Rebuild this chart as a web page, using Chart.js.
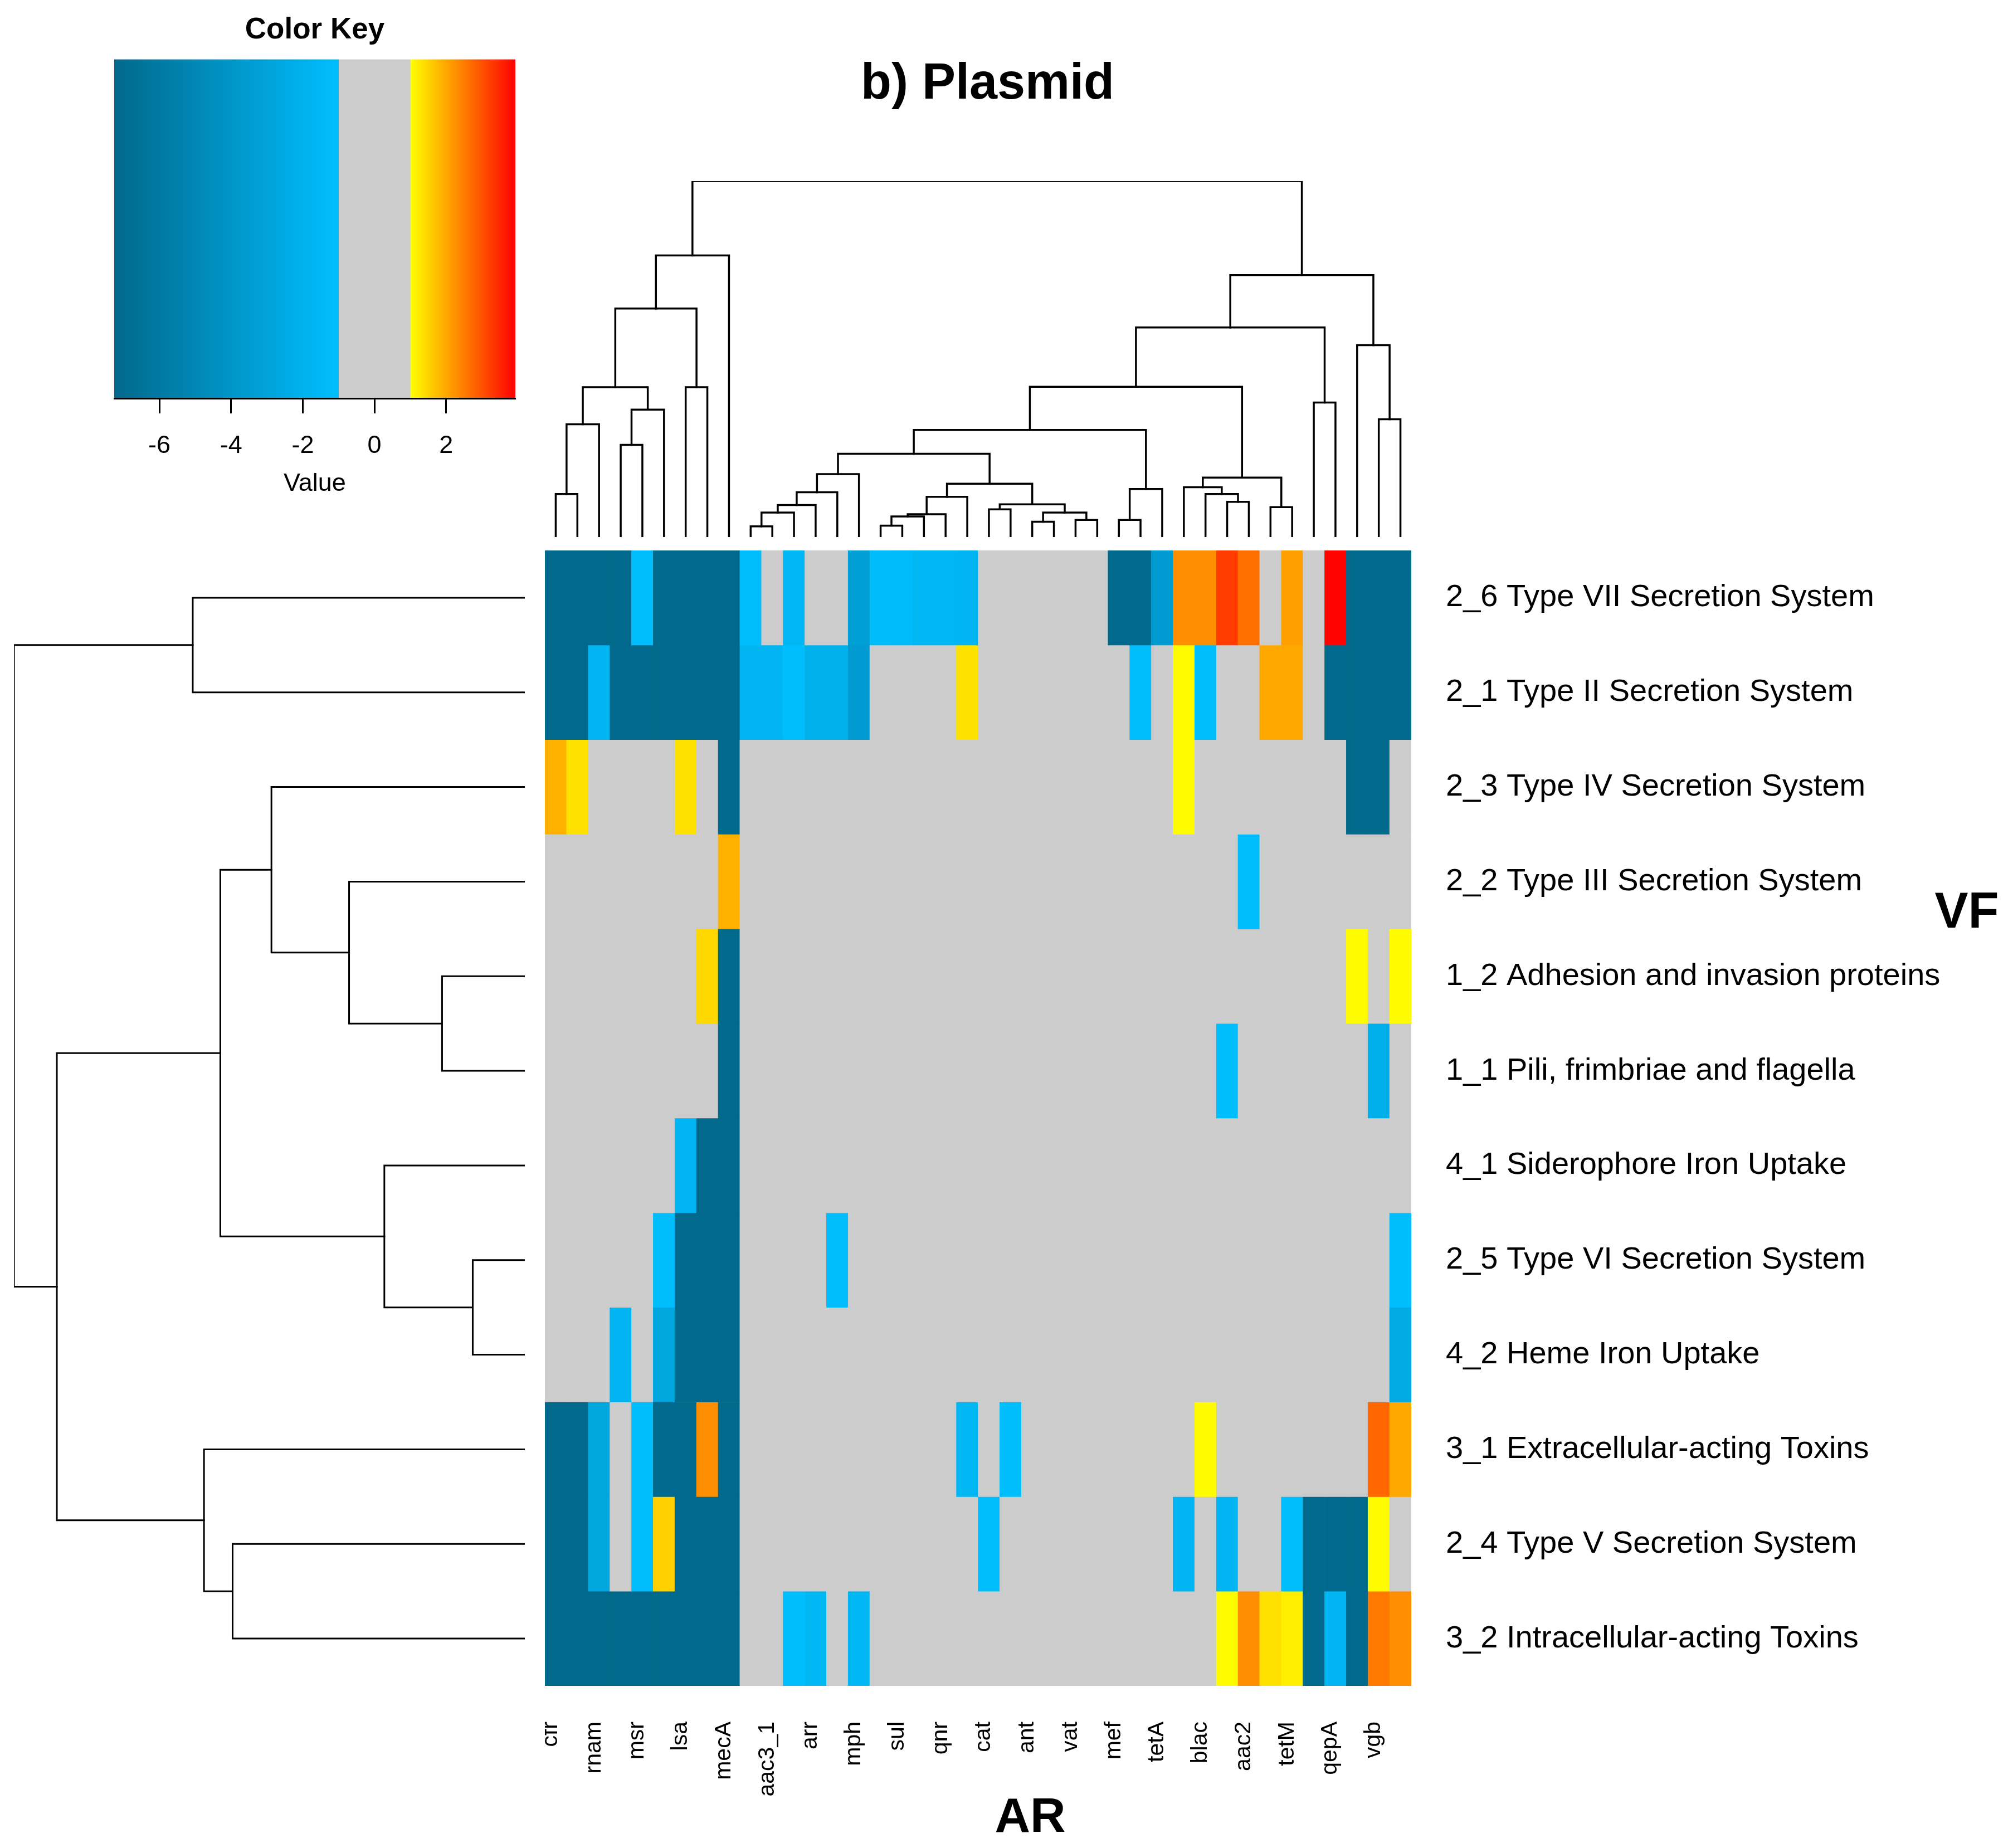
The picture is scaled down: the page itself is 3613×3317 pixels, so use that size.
<!DOCTYPE html>
<html><head><meta charset="utf-8">
<script src="https://cdn.jsdelivr.net/npm/chart.js@4.4.1/dist/chart.umd.min.js"></script>
<style>
html,body{margin:0;padding:0;background:#fff;width:3613px;height:3317px;overflow:hidden;position:relative}
canvas{position:absolute;display:block}
</style></head><body>
<canvas id="key" style="left:150px;top:0px;width:830px;height:920px" width="830" height="920"></canvas>
<canvas id="colDendro" style="left:978px;top:80px;width:1589px;height:888px" width="1589" height="888"></canvas>
<canvas id="rowDendro" style="left:15px;top:988px;width:937px;height:2038px" width="937" height="2038"></canvas>
<canvas id="heat" style="left:978px;top:988px;width:2635px;height:2329px" width="2635" height="2329"></canvas>
<script>
// ---------------- DATA ----------------
const chartTitle = 'b) Plasmid';
const arAxisTitle = 'AR';
const vfAxisTitle = 'VF';

// 40 AR columns (only every other name is printed in the original)
const arLabels = ['cfr','','rnam','','msr','','lsa','','mecA','',
                  'aac3_1','','arr','','mph','','sul','','qnr','',
                  'cat','','ant','','vat','','mef','','tetA','',
                  'blac','','aac2','','tetM','','qepA','','vgb',''];

const vfLabels = ['2_6 Type VII Secretion System','2_1 Type II Secretion System',
  '2_3 Type IV Secretion System','2_2 Type III Secretion System',
  '1_2 Adhesion and invasion proteins','1_1 Pili, frimbriae and flagella',
  '4_1 Siderophore Iron Uptake','2_5 Type VI Secretion System',
  '4_2 Heme Iron Uptake','3_1 Extracellular-acting Toxins',
  '2_4 Type V Secretion System','3_2 Intracellular-acting Toxins'];

// one row of values per VF category (40 AR columns each)
const r2_6 = [-7.2,-7.2,-7.2,-7.2,-1.1,-7.2,-7.2,-7.2,-7.2,-1.1,
              0,-1.6,0,0,-3.3,-1.2,-1.3,-1.6,-1.6,-1.7,
              0,0,0,0,0,0,-7.2,-7.2,-3.5,2.3,
              2.3,3.25,2.65,0,2.1,0,3.9,-7.2,-7.2,-7.2];
const r2_1 = [-7.2,-7.2,-1.7,-7.2,-7.2,-7.2,-7.2,-7.2,-7.2,-1.7,
              -1.7,-1.1,-2.0,-2.0,-3.5,0,0,0,0,1.35,
              0,0,0,0,0,0,0,-1.1,0,1.05,
              -1.1,0,0,2.0,2.0,0,-7.2,-7.2,-7.2,-7.2];
const r2_3 = [1.9,1.35,0,0,0,0,1.35,0,-7.2,0,
              0,0,0,0,0,0,0,0,0,0,
              0,0,0,0,0,0,0,0,0,1.05,
              0,0,0,0,0,0,0,-7.2,-7.2,0];
const r2_2 = [0,0,0,0,0,0,0,0,1.9,0,
              0,0,0,0,0,0,0,0,0,0,
              0,0,0,0,0,0,0,0,0,0,
              0,0,-1.1,0,0,0,0,0,0,0];
const r1_2 = [0,0,0,0,0,0,0,1.45,-7.2,0,
              0,0,0,0,0,0,0,0,0,0,
              0,0,0,0,0,0,0,0,0,0,
              0,0,0,0,0,0,0,1.05,0,1.05];
const r1_1 = [0,0,0,0,0,0,0,0,-7.2,0,
              0,0,0,0,0,0,0,0,0,0,
              0,0,0,0,0,0,0,0,0,0,
              0,-1.1,0,0,0,0,0,0,-2.2,0];
const r4_1 = [0,0,0,0,0,0,-1.7,-7.2,-7.2,0,
              0,0,0,0,0,0,0,0,0,0,
              0,0,0,0,0,0,0,0,0,0,
              0,0,0,0,0,0,0,0,0,0];
const r2_5 = [0,0,0,0,0,-1.1,-7.2,-7.2,-7.2,0,
              0,0,0,-1.1,0,0,0,0,0,0,
              0,0,0,0,0,0,0,0,0,0,
              0,0,0,0,0,0,0,0,0,-1.1];
const r4_2 = [0,0,0,-1.7,0,-2.8,-7.2,-7.2,-7.2,0,
              0,0,0,0,0,0,0,0,0,0,
              0,0,0,0,0,0,0,0,0,0,
              0,0,0,0,0,0,0,0,0,-2.5];
const r3_1 = [-7.2,-7.2,-2.8,0,-1.1,-7.2,-7.2,2.3,-7.2,0,
              0,0,0,0,0,0,0,0,0,-1.6,
              0,-1.1,0,0,0,0,0,0,0,0,
              1.05,0,0,0,0,0,0,0,2.75,2.0];
const r2_4 = [-7.2,-7.2,-2.8,0,-1.1,1.55,-7.2,-7.2,-7.2,0,
              0,0,0,0,0,0,0,0,0,0,
              -1.1,0,0,0,0,0,0,0,0,-1.7,
              0,-1.7,0,0,-1.1,-7.2,-7.2,-7.2,1.05,0];
const r3_2 = [-7.2,-7.2,-7.2,-7.2,-7.2,-7.2,-7.2,-7.2,-7.2,0,
              0,-1.1,-1.6,0,-1.6,0,0,0,0,0,
              0,0,0,0,0,0,0,0,0,0,
              0,1.05,2.3,1.35,1.2,-7.2,-1.7,-7.2,2.55,2.3];
const rowSeries = [r2_6,r2_1,r2_3,r2_2,r1_2,r1_1,r4_1,r2_5,r4_2,r3_1,r2_4,r3_2];

// column dendrogram (hclust-style merges: negative = leaf, positive = earlier merge)
const arMerges = [[-1,-2],[1,-3],[-4,-5],[3,-6],[2,4],[-7,-8],[5,6],[7,-9],
  [-10,-11],[9,-12],[10,-13],[11,-14],[12,-15],
  [-16,-17],[14,-18],[15,-19],[16,-20],
  [-21,-22],[-23,-24],[-25,-26],[19,20],[18,21],[17,22],[13,23],
  [-27,-28],[25,-29],[24,26],
  [-32,-33],[-31,28],[-30,29],[-34,-35],[30,31],[27,32],
  [-36,-37],[33,34],[-39,-40],[-38,36],[35,37],[8,38]];
const arHeights = [12.1,31.7,25.9,35.8,42.1,42.1,64.2,79.1,
  3.0,6.9,9.0,12.6,17.7,
  3.2,5.8,6.4,11.3,
  7.8,4.3,4.8,6.9,9.2,15.0,23.4,
  4.8,13.5,30.1,
  9.9,12.1,14.0,8.4,16.7,42.2,
  37.8,58.9,33.1,53.9,73.6,100];

// row dendrogram
const vfMerges = [[-5,-6],[-4,1],[-3,2],[-8,-9],[-7,4],[3,5],[-11,-12],[-10,7],[6,8],[-1,-2],[10,9]];
const vfHeights = [16.2,34.4,49.6,10.2,27.5,59.6,57.2,62.8,91.6,65.0,100];

// colour key
const keyTitle = 'Color Key';
const keyAxisTitle = 'Value';
const keyTicks = [-6,-4,-2,0,2];
const keyMin = -7.26, keyMax = 3.93, negEdge = -1, posEdge = 1;

// ---------------- HELPERS ----------------
const FONT = "'Liberation Sans', Arial, Helvetica, sans-serif";
Chart.defaults.font.family = FONT;
Chart.defaults.color = '#000';

const darkBlue = [0,104,139], lightBlue = [0,191,255], grey = [204,204,204], yellow = [255,255,0], red = [255,0,0];
function mix(a,b,t){ return a.map((c,i)=>Math.round(c+(b[i]-c)*t)); }
function rgb(c){ return 'rgb('+c[0]+','+c[1]+','+c[2]+')'; }
function clamp(t){ return Math.max(0,Math.min(1,t)); }
function cellColor(v){
  if (v <= negEdge) return rgb(mix(darkBlue, lightBlue, clamp((v-keyMin)/(negEdge-keyMin))));
  if (v < posEdge) return rgb(grey);
  return rgb(mix(yellow, red, clamp((v-posEdge)/(keyMax-posEdge))));
}

function treeSegments(merges, heights){
  const nodes = [], segs = [];
  const get = r => r < 0 ? {p: -r, h: 0} : nodes[r-1];
  merges.forEach((m,k) => {
    const A = get(m[0]), B = get(m[1]), h = heights[k];
    segs.push([[A.p,A.h],[A.p,h],[B.p,h],[B.p,B.h]]);
    nodes.push({p: (A.p+B.p)/2, h});
  });
  return segs;
}

const textPlugin = {
  id: 'extraText',
  afterDraw(chart, args, opts){
    if (!opts || !opts.items) return;
    const ctx = chart.ctx, ca = chart.chartArea;
    ctx.save();
    ctx.fillStyle = '#000'; ctx.textAlign = 'center'; ctx.textBaseline = 'middle';
    opts.items.forEach(it => {
      ctx.font = it.font;
      ctx.fillText(it.text, ca.left + it.dx, ca.top + it.dy);
    });
    ctx.restore();
  }
};

// ---------------- COLOUR KEY ----------------
const gradientPlugin = {
  id: 'keyGradient',
  beforeDraw(chart){
    const ctx = chart.ctx, ca = chart.chartArea, xs = chart.scales.x;
    const x0 = xs.getPixelForValue(keyMin), x1 = xs.getPixelForValue(keyMax);
    const off = v => (xs.getPixelForValue(v) - x0) / (x1 - x0);
    const g = ctx.createLinearGradient(x0, 0, x1, 0);
    g.addColorStop(0, rgb(darkBlue));
    g.addColorStop(off(negEdge), rgb(lightBlue));
    g.addColorStop(Math.min(1, off(negEdge)+0.0001), rgb(grey));
    g.addColorStop(off(posEdge), rgb(grey));
    g.addColorStop(Math.min(1, off(posEdge)+0.0001), rgb(yellow));
    g.addColorStop(1, rgb(red));
    ctx.save(); ctx.fillStyle = g;
    ctx.fillRect(x0, ca.top, x1-x0, ca.bottom-ca.top);
    ctx.restore();
  }
};

new Chart(document.getElementById('key'), {
  type: 'scatter',
  data: { datasets: [] },
  plugins: [gradientPlugin],
  options: {
    responsive: false, animation: false, devicePixelRatio: 1,
    layout: { padding: { left: 55, right: 55, top: 0, bottom: 0 } },
    plugins: {
      legend: { display: false }, tooltip: { enabled: false },
      title: { display: true, text: keyTitle, color: '#000',
               font: { size: 53, weight: 'bold', family: FONT }, padding: { top: 23, bottom: 20 } }
    },
    scales: {
      x: { type: 'linear', min: keyMin, max: keyMax, position: 'bottom',
           afterBuildTicks: s => { s.ticks = keyTicks.map(v => ({ value: v })); },
           grid: { display: true, drawOnChartArea: false, drawTicks: true, tickLength: 27, tickColor: '#000', tickWidth: 3 },
           border: { display: true, color: '#000', width: 3 },
           ticks: { color: '#000', font: { size: 45, family: FONT }, padding: 32, maxRotation: 0 },
           title: { display: true, text: keyAxisTitle, color: '#000', font: { size: 45, family: FONT }, padding: { top: 0, bottom: 24 } },
           afterFit: s => { s.height = 205; s.paddingLeft = 0; s.paddingRight = 0; } },
      y: { type: 'linear', min: 0, max: 1, display: false }
    }
  }
});

// ---------------- COLUMN DENDROGRAM ----------------
new Chart(document.getElementById('colDendro'), {
  type: 'scatter',
  data: { datasets: treeSegments(arMerges, arHeights).map(seg => ({
    data: seg.map(q => ({ x: q[0], y: q[1] })), showLine: true,
    borderColor: '#000', borderWidth: 3.5, pointRadius: 0, tension: 0,
    borderCapStyle: 'square', borderJoinStyle: 'miter', fill: false })) },
  options: {
    responsive: false, animation: false, devicePixelRatio: 1,
    layout: { padding: { left: 0, right: 0, top: 0, bottom: 4 } },
    plugins: {
      legend: { display: false }, tooltip: { enabled: false },
      title: { display: true, text: chartTitle, color: '#000',
               font: { size: 90, weight: 'bold', family: FONT }, padding: { top: 18, bottom: 119 } }
    },
    scales: {
      x: { type: 'linear', min: 0.5, max: arLabels.length + 0.5, display: false },
      y: { type: 'linear', min: 0, max: 100, display: false },
      pad: { type: 'linear', position: 'right', display: true,
             grid: { display: false, drawTicks: false }, border: { display: false },
             ticks: { display: false },
             afterFit: s => { s.width = 34; s.paddingTop = 0; s.paddingBottom = 0; } }
    }
  }
});

// ---------------- ROW DENDROGRAM ----------------
new Chart(document.getElementById('rowDendro'), {
  type: 'scatter',
  data: { datasets: treeSegments(vfMerges, vfHeights).map(seg => ({
    data: seg.map(q => ({ x: q[1], y: q[0] - 1 })), showLine: true,
    borderColor: '#000', borderWidth: 3, pointRadius: 0, tension: 0,
    borderCapStyle: 'square', borderJoinStyle: 'miter', fill: false })) },
  options: {
    responsive: false, animation: false, devicePixelRatio: 1,
    layout: { padding: { left: 10, right: 10, top: 0, bottom: 0 } },
    plugins: { legend: { display: false }, tooltip: { enabled: false } },
    scales: {
      x: { type: 'linear', min: 0, max: 100, reverse: true, display: false },
      y: { type: 'linear', min: -0.5, max: vfLabels.length - 0.5, reverse: true, display: false }
    }
  }
});

// ---------------- HEATMAP ----------------
new Chart(document.getElementById('heat'), {
  type: 'bar',
  data: {
    labels: arLabels,
    datasets: rowSeries.map((vals, i) => ({
      label: vfLabels[i],
      data: vals.map(() => [i - 0.5, i + 0.5]),
      backgroundColor: vals.map(cellColor),
      borderWidth: 0, grouped: false, barPercentage: 1, categoryPercentage: 1
    }))
  },
  plugins: [textPlugin],
  options: {
    responsive: false, animation: false, devicePixelRatio: 1,
    layout: { padding: 0 },
    plugins: {
      legend: { display: false }, tooltip: { enabled: false },
      extraText: { items: [
        { text: vfAxisTitle, font: "bold 90px " + FONT, dx: 2552, dy: 652 },
        { text: arAxisTitle, font: "bold 88px " + FONT, dx: 871, dy: 2276 }
      ] }
    },
    scales: {
      x: { type: 'category', offset: true,
           grid: { display: false, drawTicks: false }, border: { display: false },
           ticks: { autoSkip: false, minRotation: 90, maxRotation: 90, padding: 64, labelOffset: -9, color: '#000',
                    font: { size: 41, family: FONT } },
           afterFit: s => { s.height = 291; s.paddingLeft = 0; s.paddingRight = 0; } },
      y: { type: 'linear', position: 'right', min: -0.5, max: vfLabels.length - 0.5, reverse: true,
           afterBuildTicks: s => { s.ticks = vfLabels.map((_, i) => ({ value: i })); },
           grid: { display: false, drawTicks: false }, border: { display: false },
           ticks: { callback: v => vfLabels[v], padding: 62, color: '#000', font: { size: 56, family: FONT } },
           afterFit: s => { s.width = 1080; s.paddingTop = 0; s.paddingBottom = 0; } }
    }
  }
});
</script>
</body></html>
